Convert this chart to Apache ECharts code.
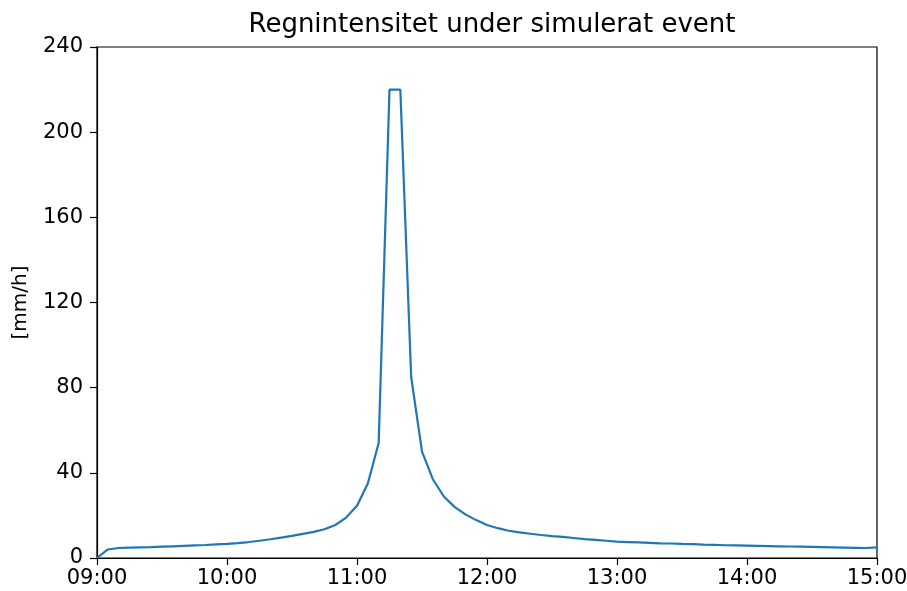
<!DOCTYPE html>
<html>
<head>
<meta charset="utf-8">
<script src="https://cdn.jsdelivr.net/npm/echarts@6/dist/echarts.min.js"></script>
<style>
html,body{margin:0;padding:0;background:#fff;}
#chart{width:907px;height:591px;}
</style>
</head>
<body>
<div id="chart"></div>
<script>
// Time stamps (5-minute steps) and rain intensity [mm/h]
var times = [
  "09:00","09:05","09:10","09:15","09:20","09:25","09:30","09:35","09:40","09:45","09:50","09:55",
  "10:00","10:05","10:10","10:15","10:20","10:25","10:30","10:35","10:40","10:45","10:50","10:55",
  "11:00","11:05","11:10","11:15","11:20","11:25","11:30","11:35","11:40","11:45","11:50","11:55",
  "12:00","12:05","12:10","12:15","12:20","12:25","12:30","12:35","12:40","12:45","12:50","12:55",
  "13:00","13:05","13:10","13:15","13:20","13:25","13:30","13:35","13:40","13:45","13:50","13:55",
  "14:00","14:05","14:10","14:15","14:20","14:25","14:30","14:35","14:40","14:45","14:50","14:55",
  "15:00"
];
var intensity = [
  0, 4.0, 4.7, 4.9, 5.0, 5.1, 5.3, 5.5, 5.7, 5.9, 6.1, 6.4,
  6.6, 7.0, 7.5, 8.1, 8.8, 9.6, 10.4, 11.3, 12.3, 13.5, 15.5, 19.0,
  24.5, 35, 54, 220, 220, 85, 50, 37, 29, 24, 20.5, 17.8,
  15.5, 14.0, 12.8, 12.0, 11.4, 10.8, 10.3, 9.9, 9.4, 8.9, 8.5, 8.1,
  7.7, 7.5, 7.3, 7.1, 6.9, 6.8, 6.6, 6.5, 6.3, 6.2, 6.0, 5.9,
  5.8, 5.7, 5.6, 5.5, 5.4, 5.3, 5.2, 5.1, 5.0, 4.9, 4.8, 4.7,
  5.0
];
var xTickLabels = ["09:00","10:00","11:00","12:00","13:00","14:00","15:00"];
var yTicks = [0, 40, 80, 120, 160, 200, 240];

function toMin(s){ var p = s.split(":"); return (+p[0])*60 + (+p[1]); }
function toLabel(m){ var h = Math.floor(m/60), mm = m%60; return (h<10?"0":"")+h+":"+(mm<10?"0":"")+mm; }

var seriesData = times.map(function(t,i){ return [toMin(t), intensity[i]]; });
var font = "DejaVu Sans";

var chart = echarts.init(document.getElementById('chart'), null, {renderer:'canvas'});
chart.setOption({
  animation:false,
  backgroundColor:'#ffffff',
  title:{
    text:'Regnintensitet under simulerat event',
    left:487, top:7, textAlign:'center',
    textStyle:{fontFamily:font, fontSize:26, fontWeight:'normal', color:'#000'}
  },
  grid:{left:97, right:30, top:47, bottom:33, containLabel:false, outerBoundsMode:'none',
        show:true, borderColor:'#000', borderWidth:1.2, backgroundColor:'transparent'},
  xAxis:{
    type:'value',
    min:toMin(xTickLabels[0]), max:toMin(xTickLabels[xTickLabels.length-1]), interval:60,
    axisLine:{show:true, onZero:false, lineStyle:{color:'#000', width:1.2}},
    axisTick:{show:true, inside:false, length:7, lineStyle:{color:'#000', width:1.2}},
    splitLine:{show:false},
    axisLabel:{fontFamily:font, fontSize:21, color:'#000', margin:10, formatter:function(v){return toLabel(v);}}
  },
  yAxis:{
    type:'value',
    min:yTicks[0], max:yTicks[yTicks.length-1], interval:40,
    name:'[mm/h]', nameLocation:'middle', nameGap:66, nameRotate:90,
    nameTextStyle:{fontFamily:font, fontSize:20, color:'#000'},
    axisLine:{show:true, lineStyle:{color:'#000', width:1.2}},
    axisTick:{show:true, inside:false, length:7, lineStyle:{color:'#000', width:1.2}},
    splitLine:{show:false},
    axisLabel:{fontFamily:font, fontSize:21, color:'#000', margin:14}
  },
  series:[{
    type:'line',
    data:seriesData,
    showSymbol:false,
    symbol:'none',
    lineStyle:{color:'#1f77b4', width:2.2},
    clip:true
  }]
});
</script>
</body>
</html>
